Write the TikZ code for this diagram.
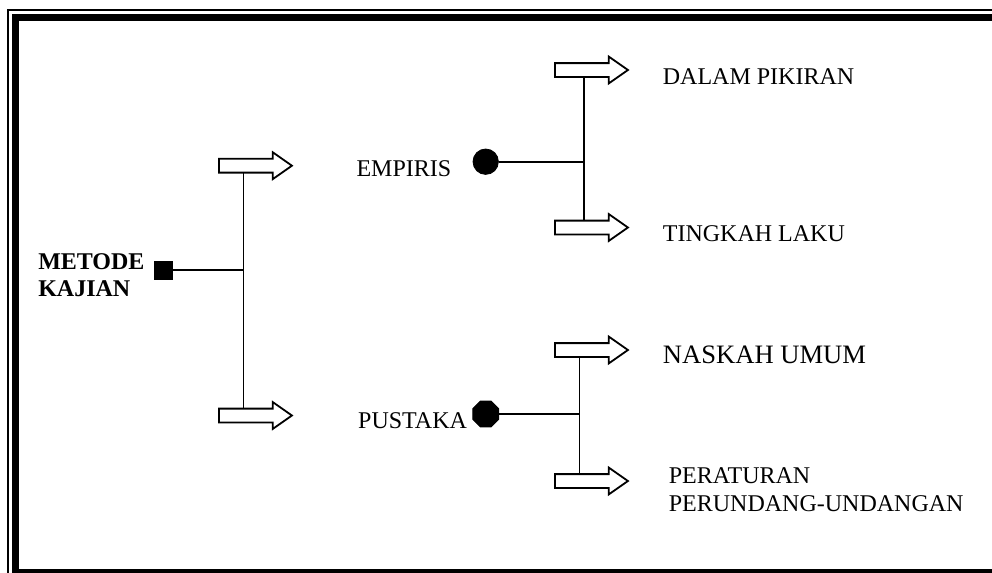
\documentclass[tikz,border=0pt]{standalone}
\usepackage{fontspec}
\setmainfont{Liberation Serif}
\usetikzlibrary{shapes.geometric, shapes.arrows, positioning, backgrounds}
\tikzset{hollow/.style={single arrow, draw, fill=white, line width=0.9pt, inner sep=3pt,
            minimum height=36.5pt, minimum width=12.5pt,
            single arrow head extend=3.25pt, single arrow tip angle=70},
         txt/.style={inner sep=0pt, font=\fontsize{12pt}{14.2pt}\selectfont},
         link/.style={line width=0.8pt}}

\begin{document}
\begin{tikzpicture}[x=0.5pt, y=-0.5pt]
    \useasboundingbox (0,0) rectangle (992,573);
    % frame
    \begin{scope}
        \clip (0,0) rectangle (992,573);
        \draw[line width=1pt] (8.3,10) rectangle (1010,590);
        \draw[line width=3.4pt] (15.6,17.4) rectangle (995,572);
    \end{scope}

    \node[draw, fill, minimum size=9pt, inner sep=0pt] (sq) at (163.3,270) {};
    \node[txt, font=\fontsize{12pt}{13.7pt}\selectfont\bfseries, align=left,
          left=4.5pt of sq, yshift=-2.5pt] (metode) {METODE\\KAJIAN};
    \coordinate (j1) at (243.3,270);
    \node[hollow] (arA) at (250.5,165.7) {};
    \node[hollow] (arB) at (250.5,415.5) {};

    \node[draw, fill, circle, minimum size=12.7pt, inner sep=0pt] (emp) at (485.7,161.7) {};
    \node[txt, left=10.5pt of emp, anchor=base east, yshift=-7.5pt] (empiris) {EMPIRIS};
    \node[draw, fill, regular polygon, regular polygon sides=8, minimum size=14pt, inner sep=0pt] (pus) at (485.7,414) {};
    \node[txt, left=2.5pt of pus, anchor=base east, yshift=-7.3pt] (pustaka) {PUSTAKA};

    \coordinate (j2) at (584,161.7);
    \coordinate (j3) at (579.3,414);
    \node[hollow] (arC) at (586.5,70) {};
    \node[hollow] (arD) at (586.5,227.5) {};
    \node[hollow] (arE) at (586.5,350) {};
    \node[hollow] (arF) at (586.5,481) {};

    \node[txt, right=16.5pt of arC, anchor=base west, yshift=-7pt] (pikiran) {DALAM PIKIRAN};
    \node[txt, right=16.5pt of arD, anchor=base west, yshift=-7.1pt] (laku) {TINGKAH LAKU};
    \node[txt, font=\fontsize{13.3pt}{16pt}\selectfont, right=16.5pt of arE, anchor=base west, yshift=-6.5pt] (naskah) {NASKAH UMUM};
    \node[txt, align=left, right=19.5pt of arF, anchor=base west, yshift=-15.4pt] (aturan) {PERATURAN\\PERUNDANG-UNDANGAN};

    \begin{scope}[on background layer]
        \draw[link] (sq) -- (j1);
        \draw[link] (j1 |- arA) -- (j1 |- arB);
        \draw[link] (emp) -- (j2);
        \draw[link] (j2 |- arC) -- (j2 |- arD);
        \draw[link] (pus) -- (j3);
        \draw[link] (j3 |- arE) -- (j3 |- arF);
    \end{scope}
\end{tikzpicture}
\end{document}
